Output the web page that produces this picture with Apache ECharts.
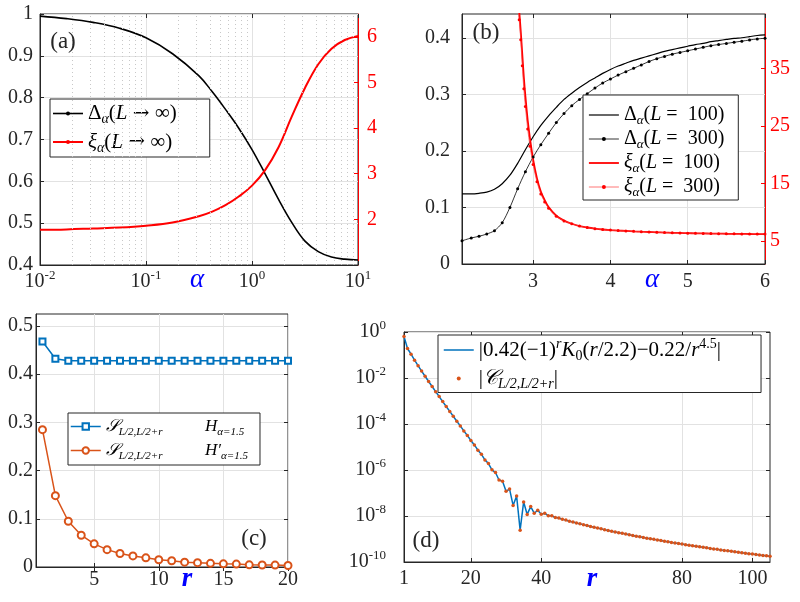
<!DOCTYPE html>
<html><head><meta charset="utf-8">
<script src="https://cdn.jsdelivr.net/npm/echarts@6/dist/echarts.min.js"></script>
<style>html,body{margin:0;padding:0;background:#fff}#c{width:800px;height:602px}</style>
</head><body><div id="c"></div>
<script>
// ---------- Panel (a) ----------
const alphaA = [0.01,0.0178,0.0316,0.0562,0.1,0.178,0.316,0.422,0.562,0.75,1.0,1.33,1.78,2.37,3.16,4.22,5.62,7.5,10];
const deltaInf = [0.995,0.989,0.980,0.966,0.943,0.905,0.852,0.814,0.772,0.727,0.676,0.618,0.557,0.502,0.457,0.432,0.419,0.414,0.412];
const xiInf = [1.77,1.78,1.80,1.82,1.86,1.93,2.07,2.17,2.31,2.50,2.74,3.08,3.58,4.25,4.88,5.40,5.74,5.93,6.02];
const minorTicksA = [0.02,0.03,0.04,0.05,0.06,0.07,0.08,0.09,0.2,0.3,0.4,0.5,0.6,0.7,0.8,0.9,2,3,4,5,6,7,8,9];
const rightTicksA = [2,3,4,5,6];
// ---------- Panel (b) ----------
const alphaB = [2.08,2.2,2.3,2.4,2.5,2.6,2.7,2.8,2.9,3.0,3.1,3.2,3.3,3.4,3.5,3.6,3.7,3.8,3.9,4.0,4.1,4.2,4.3,4.4,4.5,4.6,4.7,4.8,4.9,5.0,5.1,5.2,5.3,5.4,5.5,5.6,5.7,5.8,5.9,6.0];
const delta100 = [0.124,0.124,0.125,0.127,0.132,0.142,0.157,0.178,0.202,0.225,0.245,0.262,0.277,0.291,0.302,0.312,0.321,0.329,0.337,0.344,0.350,0.355,0.360,0.364,0.368,0.372,0.376,0.379,0.382,0.385,0.388,0.390,0.393,0.395,0.397,0.399,0.400,0.402,0.404,0.405];
const delta300 = [0.041,0.046,0.049,0.053,0.059,0.073,0.100,0.133,0.163,0.189,0.211,0.231,0.250,0.266,0.280,0.291,0.301,0.311,0.320,0.327,0.334,0.340,0.346,0.352,0.358,0.363,0.367,0.371,0.374,0.377,0.380,0.383,0.386,0.388,0.390,0.392,0.394,0.396,0.398,0.399];
const alphaXi = [2.8,2.82,2.84,2.86,2.88,2.9,2.93,2.96,3.0,3.05,3.1,3.15,3.2,3.3,3.4,3.5,3.6,3.7,3.8,3.9,4.0,4.1,4.2,4.3,4.4,4.5,4.6,4.7,4.8,4.9,5.0,5.1,5.2,5.3,5.4,5.5,5.6,5.7,5.8,5.9,6.0];
const xi100 = [48,45,41.5,37.5,33.5,30.2,26,22.8,19.2,15.9,13.6,12.1,10.9,9.4,8.55,8.0,7.6,7.35,7.15,7.0,6.9,6.82,6.75,6.68,6.62,6.57,6.52,6.47,6.43,6.40,6.37,6.34,6.32,6.30,6.28,6.26,6.25,6.23,6.22,6.21,6.20];
const xi300 = [46,43.5,40,35.5,31.5,28.4,24.5,21.5,18.3,15.3,13.2,11.8,10.7,9.3,8.5,8.0,7.6,7.35,7.15,7.0,6.9,6.82,6.75,6.68,6.62,6.57,6.52,6.47,6.43,6.40,6.37,6.34,6.32,6.30,6.28,6.26,6.25,6.23,6.22,6.21,6.20];
const xTicksB = [3,4,5,6];
const leftTicksB = [0,0.1,0.2,0.3,0.4];
const rightTicksB = [5,15,25,35];
// ---------- Panel (c) ----------
const rC = [1,2,3,4,5,6,7,8,9,10,11,12,13,14,15,16,17,18,19,20];
const sH = [0.468,0.432,0.428,0.428,0.428,0.428,0.428,0.428,0.428,0.428,0.428,0.428,0.428,0.428,0.428,0.428,0.428,0.428,0.428,0.428];
const sHp = [0.285,0.148,0.095,0.066,0.048,0.036,0.028,0.023,0.019,0.015,0.013,0.010,0.009,0.0076,0.0066,0.0060,0.0045,0.0042,0.0040,0.0032];
const xTicksC = [5,10,15,20];
const yTicksC = [0,0.1,0.2,0.3,0.4,0.5];
// ---------- Panel (d) ----------
const rD = [];
for (let i = 1; i <= 105; i++) rD.push(i);
const corrD = [0.64,0.192,0.109,0.0596,0.0344,0.0200,0.0119,0.00703,0.00425,0.00255,
 1.56e-3,9.42e-4,5.78e-4,3.52e-4,2.18e-4,1.32e-4,8.28e-5,5.02e-5,3.18e-5,1.91e-5,
 1.23e-5,7.26e-6,4.80e-6,2.75e-6,1.91e-6,1.02e-6,7.76e-7,3.66e-7,3.28e-7,1.19e-7,
 1.48e-7,2.88e-8,7.35e-8,2.43e-9,4.09e-8,1.17e-8,2.56e-8,1.32e-8,1.77e-8,1.20e-8,
 1.31e-8,1.03e-8,1.02e-8,8.61e-9,8.15e-9,7.14e-9,6.64e-9,5.94e-9,5.47e-9,4.97e-9,
 4.55e-9,4.17e-9,3.83e-9,3.52e-9,3.24e-9,2.99e-9,2.76e-9,2.55e-9,2.36e-9,2.19e-9,
 2.03e-9,1.89e-9,1.76e-9,1.64e-9,1.53e-9,1.43e-9,1.33e-9,1.25e-9,1.17e-9,1.09e-9,
 1.03e-9,9.64e-10,9.06e-10,8.53e-10,8.03e-10,7.57e-10,7.13e-10,6.73e-10,6.36e-10,6.01e-10,
 5.68e-10,5.37e-10,5.09e-10,4.82e-10,4.57e-10,4.34e-10,4.12e-10,3.91e-10,3.72e-10,3.54e-10,
 3.36e-10,3.20e-10,3.05e-10,2.91e-10,2.77e-10,2.64e-10,2.52e-10,2.41e-10,2.30e-10,2.20e-10,
 2.10e-10,2.01e-10,1.93e-10,1.85e-10,1.77e-10];
const fitD = corrD;
const xTicksD = [1,20,40,80,100];

// ---------- styling ----------
const FONT = 'Liberation Serif';
const AX = '#262626';
const GRIDC = '#e2e2e2';
const BLUE = '#0072BD', ORANGE = '#D95319', RED = '#ff0000';

function pair(xs, ys){ return xs.map((x,i)=>[x, ys[i]]); }
const powRich = {
  b: {fontFamily: FONT, fontSize: 20, lineHeight: 26, color: AX},
  s: {fontFamily: FONT, fontSize: 13, lineHeight: 13, verticalAlign: 'top', color: AX}
};
function powFmt(v){ return '{b|10}{s|' + Math.round(Math.log10(v)) + '}'; }

function lab(extra){
  return Object.assign({fontFamily: FONT, fontSize: 20, color: AX}, extra || {});
}
function tick(color){ return {show: true, inside: true, length: 4, lineStyle: {color: color || AX}}; }
function line(color){ return {show: true, lineStyle: {color: color || AX, width: 1}}; }
const split = {show: true, lineStyle: {color: GRIDC, width: 1}};
function mirrorX(grid, base){
  return Object.assign({}, base, {gridIndex: grid, position: 'top', axisLabel: {show: false},
    axisLine: {show: false}, splitLine: {show: false}, name: ''});
}

function mkRich(fs, lh){
  const s = Math.round(fs * 0.66);
  return {
    t: {fontFamily: FONT, fontSize: fs, lineHeight: lh, color: '#000'},
    ar: {fontFamily: 'DejaVu Serif', fontSize: fs - 1, lineHeight: lh, color: '#000'},
    i: {fontFamily: FONT, fontSize: fs, lineHeight: lh, color: '#000', fontStyle: 'italic'},
    cal: {fontFamily: FONT, fontSize: fs, lineHeight: lh, color: '#000', fontStyle: 'italic'},
    sb: {fontFamily: FONT, fontSize: s, lineHeight: s, color: '#000', fontStyle: 'italic', verticalAlign: 'bottom'},
    su: {fontFamily: FONT, fontSize: s, lineHeight: s, color: '#000', verticalAlign: 'bottom'},
    sp: {fontFamily: FONT, fontSize: s, lineHeight: s, color: '#000', fontStyle: 'italic', verticalAlign: 'top'},
    spu: {fontFamily: FONT, fontSize: s, lineHeight: s, color: '#000', verticalAlign: 'top'}
  };
}
const LG = {
  dA: '{t|Δ}{sb|α}{t|(}{i|L}{t| }{ar|→}{t| ∞)}',
  xA: '{i|ξ}{sb|α}{t|(}{i|L}{t| }{ar|→}{t| ∞)}',
  d100: '{t|Δ}{sb|α}{t|(}{i|L}{t| =  100)}',
  d300: '{t|Δ}{sb|α}{t|(}{i|L}{t| =  300)}',
  x100: '{i|ξ}{sb|α}{t|(}{i|L}{t| =  100)}',
  x300: '{i|ξ}{sb|α}{t|(}{i|L}{t| =  300)}',
  sH: '{cal|𝒮}{sb|L/2,L/2+r}{t|          }{i|H}{sb|α=1.5}',
  sHp: '{cal|𝒮}{sb|L/2,L/2+r}{t|          }{i|H′}{sb|α=1.5}',
  fit: '{t|\|0.42(−1)}{sp|r}{i|K}{su|0}{t|(}{i|r}{t|/2.2)−0.22/}{i|r}{spu|4.5}{t|\|}',
  corr: '{t|\|}{cal|𝒞}{sb|L/2,L/2+r}{t|\|}'
};
function legend(names, left, top, fs, lh, gap, ih, pad){
  return {
    data: names.map(n => (['d100','x100','fit'].indexOf(n) >= 0) ? {name: n, itemStyle: {opacity: 0}} : n),
    left: left, top: top, orient: 'vertical', itemWidth: 30, itemHeight: ih, itemGap: gap,
    padding: pad, borderColor: AX, borderWidth: 1, backgroundColor: '#fff', borderRadius: 0,
    selectedMode: false, lineStyle: {width: 'inherit'},
    formatter: n => LG[n],
    textStyle: {fontFamily: FONT, fontSize: fs, color: '#000', rich: mkRich(fs, lh)}
  };
}

const xa = {type: 'log', gridIndex: 0, min: 0.01, max: 10, logBase: 10,
  axisLine: line(), axisTick: tick(), splitLine: split,
  axisLabel: {formatter: powFmt, rich: powRich, margin: 4, fontFamily: FONT}};
const xb = {type: 'value', gridIndex: 1, min: 2.08, max: 6,
  axisLine: line(), axisTick: Object.assign(tick(), {customValues: xTicksB}), splitLine: split,
  axisLabel: lab({margin: 8, customValues: xTicksB})};
const xc = {type: 'value', gridIndex: 2, min: 0.5, max: 20,
  axisLine: line(), axisTick: Object.assign(tick(), {customValues: xTicksC}), splitLine: split,
  axisLabel: lab({margin: 3, customValues: xTicksC})};
const xd = {type: 'value', gridIndex: 3, min: 1, max: 105,
  axisLine: line(), axisTick: Object.assign(tick(), {customValues: xTicksD}), splitLine: split,
  axisLabel: lab({margin: 7, customValues: xTicksD})};

const option = {
  animation: false,
  backgroundColor: '#fff',
  grid: [
    {left: 40, top: 14, width: 318, height: 251, show: true, borderColor: AX, borderWidth: 1, backgroundColor: 'transparent', outerBoundsMode: 'none'},
    {left: 462, top: 14, width: 303, height: 250, show: true, borderColor: AX, borderWidth: 1, backgroundColor: 'transparent', outerBoundsMode: 'none'},
    {left: 36, top: 314, width: 252, height: 253, show: true, borderColor: AX, borderWidth: 1, backgroundColor: 'transparent', outerBoundsMode: 'none'},
    {left: 404, top: 332, width: 366, height: 230, show: true, borderColor: AX, borderWidth: 1, backgroundColor: 'transparent', outerBoundsMode: 'none'}
  ],
  xAxis: [xa, mirrorX(0, xa), xb, mirrorX(1, xb), xc, mirrorX(2, xc), xd, mirrorX(3, xd)],
  yAxis: [
    {type: 'value', gridIndex: 0, min: 0.4, max: 1, interval: 0.1,
      axisLine: line(), axisTick: tick(), splitLine: split, axisLabel: lab({margin: 7})},
    {type: 'value', gridIndex: 0, position: 'right', min: 1, max: 6.5,
      axisLine: line(RED), axisTick: Object.assign(tick(RED), {customValues: rightTicksA}), splitLine: {show: false},
      axisLabel: lab({margin: 9, color: RED, customValues: rightTicksA})},
    {type: 'value', gridIndex: 1, min: 0, max: 0.442,
      axisLine: line(), axisTick: Object.assign(tick(), {customValues: leftTicksB}), splitLine: split,
      axisLabel: lab({margin: 12, customValues: leftTicksB})},
    {type: 'value', gridIndex: 1, position: 'right', min: 1, max: 44.5,
      axisLine: line(RED), axisTick: Object.assign(tick(RED), {customValues: rightTicksB}), splitLine: {show: false},
      axisLabel: lab({margin: 5, color: RED, customValues: rightTicksB})},
    {type: 'value', gridIndex: 2, min: 0, max: 0.525,
      axisLine: line(), axisTick: Object.assign(tick(), {customValues: yTicksC}), splitLine: split,
      axisLabel: lab({margin: 3, customValues: yTicksC})},
    {type: 'value', gridIndex: 2, position: 'right', min: 0, max: 0.525,
      axisLine: {show: false}, axisTick: Object.assign(tick(), {customValues: yTicksC}), splitLine: {show: false},
      axisLabel: {show: false}},
    {type: 'log', gridIndex: 3, min: 1e-10, max: 1, logBase: 10, interval: 2,
      axisLine: line(), axisTick: tick(), splitLine: split,
      axisLabel: {formatter: powFmt, rich: powRich, margin: 18, fontFamily: FONT}},
    {type: 'log', gridIndex: 3, position: 'right', min: 1e-10, max: 1, logBase: 10, interval: 2,
      axisLine: {show: false}, axisTick: tick(), splitLine: {show: false}, axisLabel: {show: false}}
  ],
  legend: [
    legend(['dA','xA'], 50, 99, 21, 26, 5, 5, [4, 33, 2, 2]),
    legend(['d100','d300','x100','x300'], 583, 95, 20, 24, 2, 5, [10, 14, 1, 5]),
    legend(['sH','sHp'], 68, 413, 17, 23, 4, 8, [5, 12, 3, 2]),
    legend(['fit','corr'], 438, 335, 21, 26, 5, 4, [2, 40, 1, 5])
  ],
  series: [
    {type: 'line', name: 'minorA', xAxisIndex: 0, yAxisIndex: 0, data: [], z: 1, silent: true,
      markLine: {silent: true, symbol: ['none','none'], label: {show: false}, animation: false,
        lineStyle: {type: [1, 3], color: '#c8c8c8', width: 1},
        data: minorTicksA.map(v => ({xAxis: v}))}},
    {type: 'line', name: 'dA', xAxisIndex: 0, yAxisIndex: 0, data: pair(alphaA, deltaInf), smooth: 0.4,
      showSymbol: false, symbol: 'circle', symbolSize: 3, color: '#000', lineStyle: {width: 1.6, color: '#000'}, z: 3},
    {type: 'line', name: 'xA', xAxisIndex: 0, yAxisIndex: 1, data: pair(alphaA, xiInf), smooth: 0.4,
      showSymbol: false, symbol: 'circle', symbolSize: 3, color: RED, lineStyle: {width: 2, color: RED}, z: 3},
    {type: 'line', name: 'd100', xAxisIndex: 2, yAxisIndex: 2, data: pair(alphaB, delta100), smooth: 0.3,
      showSymbol: false, symbol: 'circle', color: '#000', lineStyle: {width: 1.2, color: '#000'}, z: 3},
    {type: 'line', name: 'd300', xAxisIndex: 2, yAxisIndex: 2, data: pair(alphaB, delta300), smooth: 0.3,
      showSymbol: true, symbol: 'circle', symbolSize: 3, color: '#000', itemStyle: {color: '#000'},
      lineStyle: {width: 0.8, color: '#000'}, z: 3},
    {type: 'line', name: 'x100', xAxisIndex: 2, yAxisIndex: 3, data: pair(alphaXi, xi100), smooth: 0.3,
      showSymbol: false, symbol: 'circle', color: RED, lineStyle: {width: 1.8, color: RED}, z: 3},
    {type: 'line', name: 'x300', xAxisIndex: 2, yAxisIndex: 3, data: pair(alphaXi, xi300), smooth: 0.3,
      showSymbol: true, symbol: 'circle', symbolSize: 3, color: RED, itemStyle: {color: RED},
      lineStyle: {width: 1, color: 'rgba(255,60,60,0.7)'}, z: 4},
    {type: 'line', name: 'sH', xAxisIndex: 4, yAxisIndex: 4, data: pair(rC, sH),
      showSymbol: true, symbol: 'emptyRect', symbolSize: 6, color: BLUE,
      itemStyle: {color: BLUE, borderColor: BLUE, borderWidth: 1.5}, lineStyle: {width: 1.5, color: BLUE}, z: 3},
    {type: 'line', name: 'sHp', xAxisIndex: 4, yAxisIndex: 4, data: pair(rC, sHp),
      showSymbol: true, symbol: 'emptyCircle', symbolSize: 7, color: ORANGE,
      itemStyle: {color: ORANGE, borderColor: ORANGE, borderWidth: 1.5}, lineStyle: {width: 1.5, color: ORANGE}, z: 3},
    {type: 'line', name: 'fit', xAxisIndex: 6, yAxisIndex: 6, data: pair(rD, fitD),
      showSymbol: false, symbol: 'circle', color: BLUE, lineStyle: {width: 1.5, color: BLUE}, z: 3},
    {type: 'scatter', name: 'corr', xAxisIndex: 6, yAxisIndex: 6, data: pair(rD, corrD),
      symbol: 'circle', symbolSize: 3.5, itemStyle: {color: ORANGE, opacity: 1}, z: 4}
  ],
  graphic: [
    {type: 'text', x: 63, y: 42, z: 100, style: {text: '(a)', font: '23px "Liberation Serif"', fill: AX, align: 'center', verticalAlign: 'middle', textAlign: 'center', textVerticalAlign: 'middle'}},
    {type: 'text', x: 486, y: 33, z: 100, style: {text: '(b)', font: '23px "Liberation Serif"', fill: AX, align: 'center', verticalAlign: 'middle', textAlign: 'center', textVerticalAlign: 'middle'}},
    {type: 'text', x: 254, y: 539, z: 100, style: {text: '(c)', font: '23px "Liberation Serif"', fill: AX, align: 'center', verticalAlign: 'middle', textAlign: 'center', textVerticalAlign: 'middle'}},
    {type: 'text', x: 426, y: 541, z: 100, style: {text: '(d)', font: '23px "Liberation Serif"', fill: AX, align: 'center', verticalAlign: 'middle', textAlign: 'center', textVerticalAlign: 'middle'}},
    {type: 'text', x: 197, y: 280, z: 100, style: {text: 'α', font: 'italic 27px "Liberation Serif"', fill: '#0000ff', align: 'center', verticalAlign: 'middle', textAlign: 'center', textVerticalAlign: 'middle'}},
    {type: 'text', x: 652, y: 280, z: 100, style: {text: 'α', font: 'italic 27px "Liberation Serif"', fill: '#0000ff', align: 'center', verticalAlign: 'middle', textAlign: 'center', textVerticalAlign: 'middle'}},
    {type: 'text', x: 187, y: 579, z: 100, style: {text: 'r', font: 'italic bold 27px "Liberation Serif"', fill: '#0000ff', align: 'center', verticalAlign: 'middle', textAlign: 'center', textVerticalAlign: 'middle'}},
    {type: 'text', x: 592, y: 579, z: 100, style: {text: 'r', font: 'italic bold 27px "Liberation Serif"', fill: '#0000ff', align: 'center', verticalAlign: 'middle', textAlign: 'center', textVerticalAlign: 'middle'}}
  ]
};
const chart = echarts.init(document.getElementById('c'), null, {renderer: 'canvas'});
chart.setOption(option);
</script></body></html>
